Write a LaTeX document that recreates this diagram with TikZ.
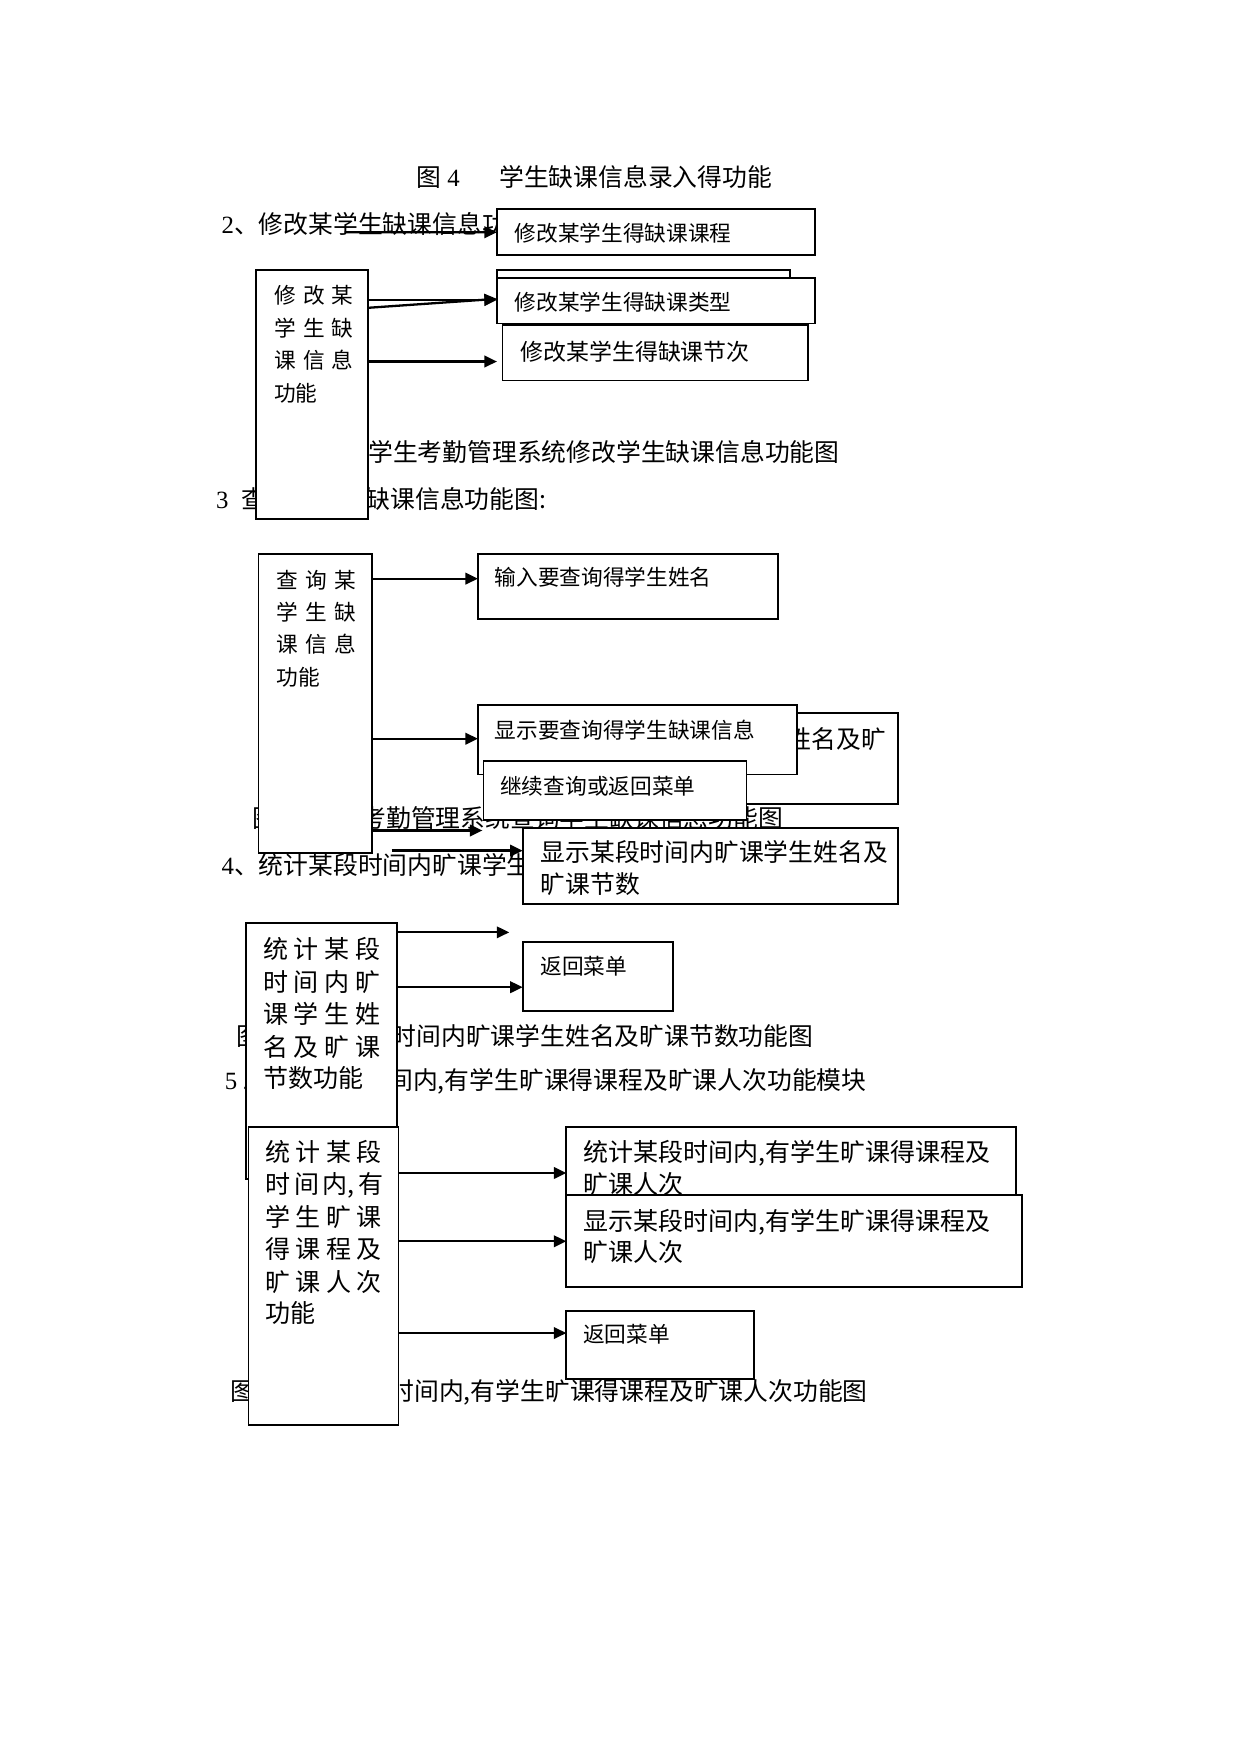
\documentclass[tikz,border=0pt]{standalone}
\usepackage{fontspec}
\setmainfont{Noto Sans CJK SC}
\newfontfamily\lat{Liberation Serif}
\usetikzlibrary{arrows.meta,fit}
\newcommand\fa{\fontsize{10.4pt}{12pt}\selectfont}
\newcommand\fb{\fontsize{11.9pt}{14pt}\selectfont}
\newcommand\fc{\fontsize{12pt}{14pt}\selectfont}
\newcommand\fd{\fontsize{11pt}{13pt}\selectfont}
\newcommand\jw[2]{\makebox[#1][s]{#2}}
\begin{document}
\begin{tikzpicture}[x=0.537pt,y=-0.537pt,
  box/.style={draw, fill=white, line width=0.9pt, inner sep=0pt, outer sep=0pt},
  arr/.style={line width=1.1pt, -{Triangle[length=6pt,width=5.5pt]}},
  tx/.style={anchor=base west, inner sep=0pt, outer sep=0pt}]
\useasboundingbox[fill=white] (0,0) rectangle (1109,1568);

% ---------- title ----------
\node[tx,font=\fb] (title1) at (372,166.4) {图\hspace{3pt}{\lat 4}};
\node[tx,font=\fb] (title2) at (446,166.4) {学生缺课信息录入得功能};

% ---------- section 2 ----------
\node[tx,font=\fb] (h2) at (198,208.4) {{\lat 2}、修改某学生缺课信息功能:};
\node[box, fit={(444,187) (728,228)}] (A1) {};
\node[tx,font=\fa] (A1t) at (460,215.4) {修改某学生得缺课课程};
\coordinate (a0s) at (308,207.5);
\draw[arr] (a0s) -- (A1.west);

\node[box, fit={(444,241) (706,275)}] (H2) {};
\node[box, fit={(444,248) (728,289)}] (A2) {};
\node[tx,font=\fa] (A2t) at (460,277.4) {修改某学生得缺课类型};
\node[box, fit={(449,290) (722,340)}] (A3) {};
\node[tx,font=\fd] (A3t) at (465,321.8) {修改某学生得缺课节次};

\node[tx,font=\fb] (c5) at (329,412.4) {学生考勤管理系统修改学生缺课信息功能图};
\node[tx,font=\fb] (l3a) at (193,454.4) {\lat 3};
\node[tx,font=\fb] (l3b) at (216,454.4) {查询某学生缺课信息功能图:};

\node[box, fit={(229,241) (329,464)}] (M2) {};
\foreach \s [count=\i] in {{修 改 某},{学 生 缺},{课 信 息}}
  \node[tx,font=\fa] (m2t\i) at (245,{271.4+29*(\i-1)}) {\jw{38.1pt}{\s}};
\node[tx,font=\fa] (m2t4) at (245,358.4) {功能};

\coordinate (a3e) at (444,323);
\draw[arr] (M2.east |- 0,268) -- (A2.west |- 0,268);
\draw[arr] (M2.east |- 0,275) -- (A2.west |- 0,267);
\draw[arr] (M2.east |- 0,323) -- (a3e);

% ---------- section 3 ----------
\node[tx,font=\fb] (c6a) at (226,739.4) {图};
\node[tx,font=\fb] (c6b) at (323,739.4) {考勤管理系统查询学生缺课信息功能图};

\node[box, fit={(427,495) (695,553)}] (B1) {};
\node[tx,font=\fa] (B1t) at (442,523.4) {输入要查询得学生姓名};
\node[box, fit={(600,637) (802,718)}] (H3) {};
\node[tx,font=\fb] (H3t) at (703,668.4) {姓名及旷};
\node[box, fit={(427,630) (712,692)}] (B2) {};
\node[tx,font=\fa] (B2t) at (442,659.4) {显示要查询得学生缺课信息};
\node[box, fit={(432,680) (667,733)}] (B3) {};
\node[tx,font=\fa] (B3t) at (447,709.4) {继续查询或返回菜单};

\node[box, fit={(231,495) (332,762)}] (M3) {};
\foreach \s [count=\i] in {{查 询 某},{学 生 缺},{课 信 息}}
  \node[tx,font=\fa] (m3t\i) at (247,{525.4+29*(\i-1)}) {\jw{38.1pt}{\s}};
\node[tx,font=\fa] (m3t4) at (247,612.4) {功能};

\coordinate (a6e) at (431,742);
\draw[arr] (M3.east |- 0,517) -- (B1.west |- 0,517);
\draw[arr] (M3.east |- 0,660) -- (B2.west |- 0,660);
\draw[arr] (M3.east |- 0,742) -- (a6e);

% ---------- section 4 ----------
\node[tx,font=\fb] (h4) at (198,781.4) {{\lat 4}、统计某段时间内旷课学生姓};
\node[box, fit={(467,740) (802,808)}] (C1) {};
\node[tx,font=\fb] (C1t1) at (483,769.4) {显示某段时间内旷课学生姓名及};
\node[tx,font=\fb] (C1t2) at (483,798.4) {旷课节数};
\coordinate (a7s) at (350,760);
\draw[arr] (a7s) -- (C1.west |- 0,760);

\node[tx,font=\fb] (c8a) at (211,934.4) {图};
\node[tx,font=\fb] (c8b) at (350,934.4) {时间内旷课学生姓名及旷课节数功能图};
\node[tx,font=\fb] (h5a) at (201,973.4) {\lat 5\hspace{2.5pt}.};
\node[tx,font=\fb] (h5b) at (347,973.4) {间内,有学生旷课得课程及旷课人次功能模块};

\node[box, fit={(467,842) (601,903)}] (F) {};
\node[tx,font=\fa] (Ft) at (483,870.4) {返回菜单};

\node[box, fit={(220,825) (355,1053)}] (D) {};
\foreach \s [count=\i] in {{统 计 某 段},{时 间 内 旷},{课 学 生 姓},{名 及 旷 课}}
  \node[tx,font=\fc] (dt\i) at (235,{856.5+29*(\i-1)}) {\jw{56.4pt}{\s}};
\node[tx,font=\fc] (dt5) at (235,971.5) {节数功能};

\coordinate (a8e) at (455,833);
\draw[arr] (D.east |- 0,833) -- (a8e);
\draw[arr] (D.east |- 0,882) -- (F.west |- 0,882);

% ---------- section 5 ----------
\node[tx,font=\fb] (c9a) at (206,1251.4) {图};
\node[tx,font=\fb] (c9b) at (348,1251.4) {时间内,有学生旷课得课程及旷课人次功能图};

\node[box, fit={(506,1007) (908,1068)}] (G1) {};
\node[tx,font=\fc] (G1t1) at (521,1037.5) {统计某段时间内,有学生旷课得课程及};
\node[tx,font=\fc] (G1t2) at (521,1066.5) {旷课人次};
\node[box, fit={(506,1068) (913,1150)}] (G2) {};
\node[tx,font=\fc] (G2t1) at (521,1099.5) {显示某段时间内,有学生旷课得课程及};
\node[tx,font=\fc] (G2t2) at (521,1127.5) {旷课人次};
\node[box, fit={(506,1171) (674,1232)}] (G3) {};
\node[tx,font=\fa] (G3t) at (521,1199.4) {返回菜单};

\node[box, fit={(222,1007) (356,1273)}] (E) {};
\foreach \s [count=\i] in {{统 计 某 段},{时 间 内, 有},{学 生 旷 课},{得 课 程 及},{旷 课 人 次}}
  \node[tx,font=\fc] (et\i) at (237,{1037.5+29*(\i-1)}) {\jw{56pt}{\s}};
\node[tx,font=\fc] (et6) at (237,1181.5) {功能};

\draw[arr] (E.east |- 0,1048) -- (G1.west |- 0,1048);
\draw[arr] (E.east |- 0,1109) -- (G2.west |- 0,1109);
\draw[arr] (E.east |- 0,1191) -- (G3.west |- 0,1191);
\end{tikzpicture}
\end{document}
